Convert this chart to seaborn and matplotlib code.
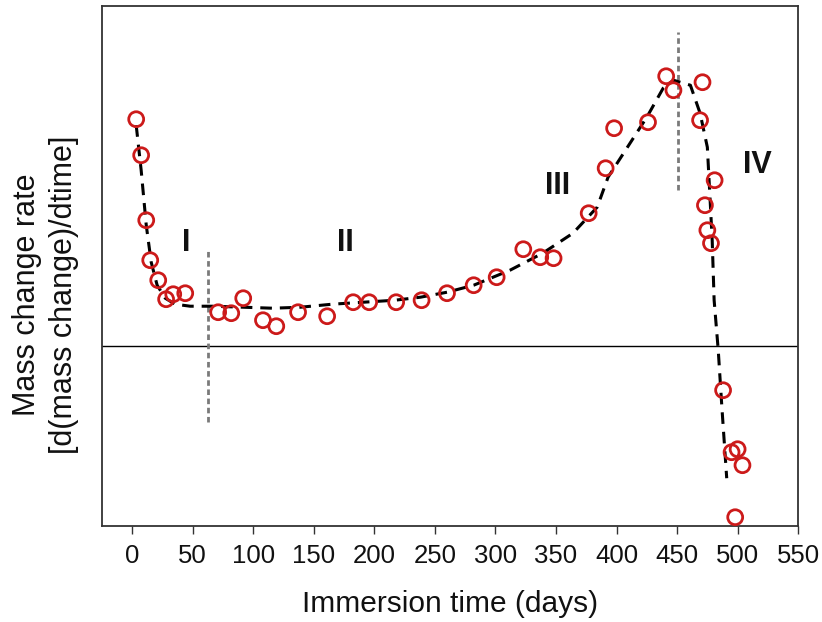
import matplotlib
matplotlib.use("Agg")
import matplotlib.pyplot as plt
import seaborn as sns
import pandas as pd

# measured data (arbitrary rate units, 0 = no mass change)
days = [3.3, 7.4, 11.6, 14.9, 21.5, 28, 33.9, 43.8, 71, 81.8, 91.7, 108, 119, 137, 161,
        182.5, 195.7, 218, 239, 260, 282, 301, 323, 337, 348, 377, 391, 398, 426, 441,
        447, 471, 469, 481, 473, 475, 478, 488, 495, 500, 504, 498]
rate = [2.27, 1.91, 1.26, 0.86, 0.66, 0.47, 0.52, 0.53, 0.34, 0.33, 0.48, 0.26, 0.20,
        0.34, 0.30, 0.44, 0.44, 0.44, 0.46, 0.53, 0.61, 0.69, 0.97, 0.89, 0.88, 1.33,
        1.78, 2.18, 2.24, 2.70, 2.56, 2.64, 2.26, 1.66, 1.41, 1.16, 1.03, -0.44, -1.06,
        -1.03, -1.19, -1.71]

# fitted trend (dashed)
fit_days = [3.3, 7.4, 11.6, 15.7, 20.6, 27.3, 35.5, 47.9, 66.9, 91.7, 116, 139, 165, 191,
            217, 238, 260, 282, 312, 339, 364, 384, 393, 409, 425, 438.5, 447, 461, 469,
            475, 477, 479, 480.6, 484, 487, 491]
fit_rate = [2.21, 1.76, 1.21, 0.84, 0.61, 0.48, 0.42, 0.40, 0.40, 0.39, 0.38, 0.39, 0.42,
            0.44, 0.46, 0.49, 0.54, 0.61, 0.76, 0.93, 1.13, 1.39, 1.69, 1.99, 2.29, 2.58,
            2.66, 2.61, 2.33, 1.99, 1.53, 1.06, 0.46, -0.04, -0.61, -1.32]

stage_labels = ["I", "II", "III", "IV"]
stage_x = [45, 176, 351, 516]
stage_y = [1.03, 1.03, 1.60, 1.81]

boundary_x = [63, 451]
boundary_lo = [-0.76, 1.56]
boundary_hi = [0.98, 3.14]

xticks = list(range(0, 551, 50))

sns.set_theme(style="white")
plt.rcParams["font.family"] = ["Liberation Sans", "DejaVu Sans"]

fig = plt.figure(figsize=(8.22, 6.22), dpi=100)
ax = fig.add_axes([0.124, 0.154, 0.847, 0.836])

df_pts = pd.DataFrame({"day": days, "rate": rate})
df_fit = pd.DataFrame({"day": fit_days, "rate": fit_rate})

ax.axhline(0, color="black", lw=1.0, zorder=1)

for bx, lo, hi in zip(boundary_x, boundary_lo, boundary_hi):
    ax.plot([bx, bx], [lo, hi], color="#7a7a7a", lw=2.0, dashes=(2.0, 1.3), zorder=2)

sns.lineplot(data=df_fit, x="day", y="rate", sort=False, estimator=None, ax=ax,
             color="black", lw=2.2, zorder=3)
ax.lines[-1].set_dashes((3.8, 2.6))

sns.scatterplot(data=df_pts, x="day", y="rate", ax=ax, s=115, marker="o",
                facecolor="none", edgecolor="#cc1a1a", linewidth=2.0, zorder=4)

for lab, sx, sy in zip(stage_labels, stage_x, stage_y):
    ax.text(sx, sy, lab, fontsize=22, fontweight="bold", ha="center", va="center",
            color="#111111")

ax.set_xlim(-25, 550)
ax.set_ylim(-1.80, 3.40)
ax.set_xticks(xticks)
ax.set_xticklabels([str(t) for t in xticks], fontsize=18.5, color="#111111")
ax.set_yticks([])
ax.tick_params(axis="x", direction="out", length=6, width=1.0, color="#333333",
               bottom=True, pad=7)
for sp in ax.spines.values():
    sp.set_color("#333333")
    sp.set_linewidth(1.3)

ax.set_xlabel("Immersion time (days)", fontsize=21.5, labelpad=16, color="#111111")
ax.set_ylabel("Mass change rate\n[d(mass change)/dtime]", fontsize=22, linespacing=1.3,
              color="#111111")
ax.yaxis.set_label_coords(-0.033, 0.445)

fig.savefig("out.png", dpi=100, facecolor="white")
